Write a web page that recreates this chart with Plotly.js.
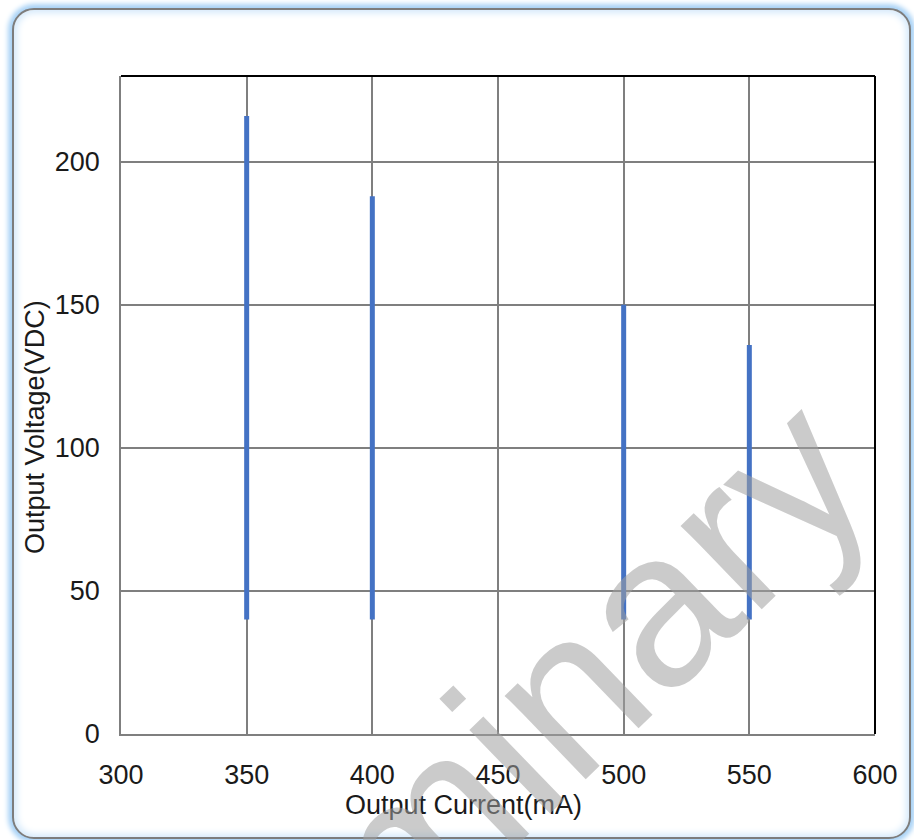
<!DOCTYPE html>
<html>
<head>
<meta charset="utf-8">
<script src="https://cdn.plot.ly/plotly-3.0.1.min.js"></script>
<style>
  html, body { margin:0; padding:0; background:#ffffff; width:914px; height:840px; overflow:hidden; }
  #frame { position:absolute; left:12px; top:8px; width:895px; height:827px;
           border:2px solid #7d7d7d; border-radius:22px;
           box-shadow: 0 0 5px 4px #a8d2f6, inset 0 0 7px 3px #d4e9fb; background:#ffffff; }
  #chart { position:absolute; left:0; top:0; width:914px; height:840px; }
</style>
</head>
<body>
<div id="frame"></div>
<div id="chart"></div>
<script>
// Data
const currents = [350, 400, 500, 550];          // Output Current (mA)
const voltMin  = [40, 40, 40, 40];              // lower end of range (VDC)
const voltMax  = [216, 188, 150, 136];          // upper end of range (VDC)
const xTicks   = [300, 350, 400, 450, 500, 550, 600];
const yTicks   = [0, 50, 100, 150, 200];
const xTitle   = "Output Current(mA)";
const yTitle   = "Output Voltage(VDC)";
const watermark = "Preliminary";

const FONT = "Liberation Sans, Arial, sans-serif";
const TXT = "#1a1a1a";

const traces = currents.map((c, i) => ({
  type: 'scatter', mode: 'lines',
  x: [c, c], y: [voltMin[i], voltMax[i]],
  line: { color: '#4472c4', width: 5 },
  hoverinfo: 'skip', showlegend: false
}));

const layout = {
  width: 914, height: 840,
  paper_bgcolor: 'rgba(0,0,0,0)', plot_bgcolor: '#ffffff',
  margin: { l: 121, r: 39, t: 76, b: 106 },
  showlegend: false,
  xaxis: {
    range: [300, 600], tickvals: xTicks, ticktext: xTicks.map(String),
    showgrid: true, gridcolor: '#7f7f7f', gridwidth: 1.8,
    showline: true, linecolor: '#7f7f7f', linewidth: 1.8,
    zeroline: false, ticks: '', ticklabelstandoff: 16,
    tickfont: { family: FONT, size: 27, color: TXT }, fixedrange: true
  },
  yaxis: {
    range: [0, 230], tickvals: yTicks, ticktext: yTicks.map(String),
    showgrid: true, gridcolor: '#7f7f7f', gridwidth: 1.8,
    showline: true, linecolor: '#7f7f7f', linewidth: 1.8,
    zeroline: false, ticks: '', ticklabelstandoff: 14,
    tickfont: { family: FONT, size: 27, color: TXT }, fixedrange: true
  },
  shapes: [
    { type: 'line', xref: 'paper', yref: 'paper', x0: 0, x1: 1, y0: 1, y1: 1, line: { color: '#000000', width: 2 } },
    { type: 'line', xref: 'paper', yref: 'paper', x0: 1, x1: 1, y0: 0, y1: 1, line: { color: '#000000', width: 2 } }
  ],
  annotations: [
    { text: xTitle, xref: 'paper', yref: 'paper', x: (463 - 121) / 754, y: (734 - 805) / 658,
      xanchor: 'center', yanchor: 'middle', showarrow: false,
      font: { family: FONT, size: 27, color: TXT } },
    { text: yTitle, xref: 'paper', yref: 'paper', x: (35 - 121) / 754, y: (734 - 427) / 658,
      xanchor: 'center', yanchor: 'middle', textangle: -90, showarrow: false,
      font: { family: FONT, size: 27, color: TXT } },
    { text: watermark, xref: 'paper', yref: 'paper', x: (434 - 121) / 754, y: (734 - 820) / 658,
      xanchor: 'center', yanchor: 'middle', textangle: -44, showarrow: false,
      font: { family: FONT, size: 220, color: 'rgba(160,160,160,0.55)' } }
  ]
};

Plotly.newPlot('chart', traces, layout, { staticPlot: true, displayModeBar: false });
</script>
</body>
</html>
